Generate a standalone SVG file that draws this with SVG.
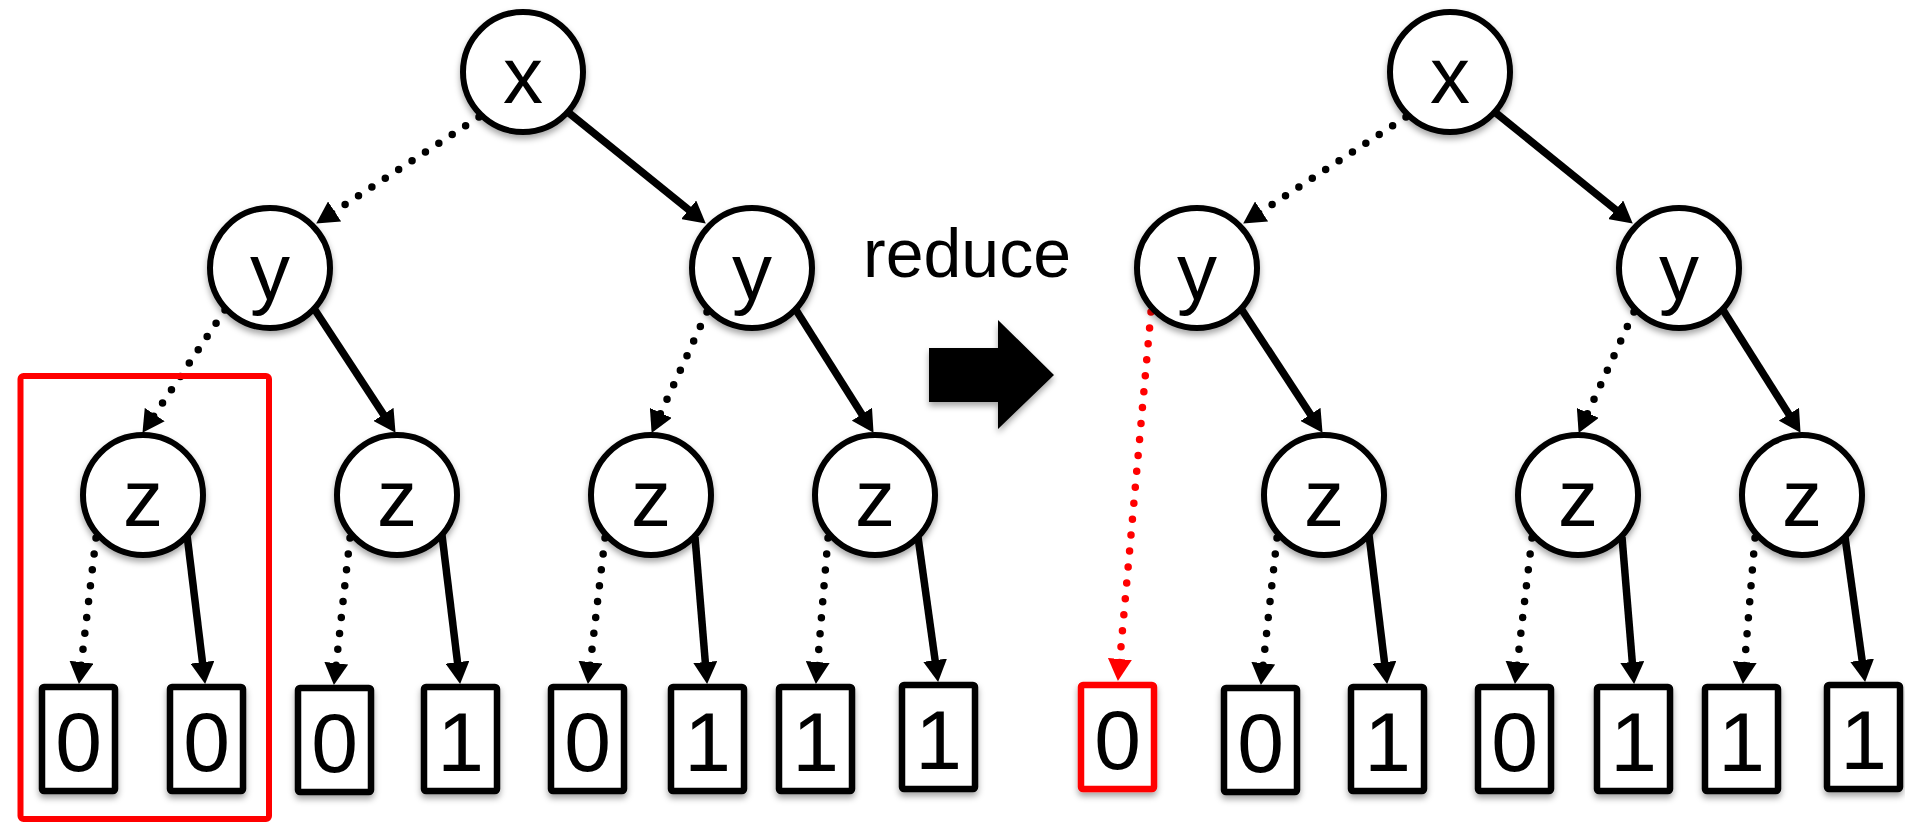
<svg xmlns="http://www.w3.org/2000/svg" width="1905" height="822" viewBox="0 0 1905 822">
  <style>
    .node circle { fill: #fff; stroke: #000; stroke-width: 6; }
    .leaf rect { fill: #fff; stroke: #000; stroke-width: 6.5; }
    .leaf.hl rect { stroke: #ff0000; }
    .lbl { font-family: "Liberation Sans", Arial, sans-serif; font-size: 80px; fill: #000; text-anchor: middle; }
    .num { font-family: "Liberation Sans", Arial, sans-serif; font-size: 84px; fill: #000; text-anchor: middle; }
    .hi { stroke: #000; stroke-width: 7.5; fill: none; marker-end: url(#head); }
    .lo { stroke: #000; stroke-width: 7.5; fill: none; stroke-linecap: round; stroke-dasharray: 0 16; marker-end: url(#head); }
    .lo.red { stroke: #ff0000; marker-end: url(#headRed); }
  </style>
  <defs>
    <filter id="shade" x="-20%" y="-20%" width="140%" height="150%">
      <feDropShadow dx="0" dy="4" stdDeviation="3" flood-color="#000" flood-opacity="0.35"/>
    </filter>
    <marker id="head" markerUnits="userSpaceOnUse" markerWidth="24" markerHeight="24" refX="11" refY="12" orient="auto">
      <path d="M0,0 L22,12 L0,24 Z" fill="#000"/>
    </marker>
    <marker id="headRed" markerUnits="userSpaceOnUse" markerWidth="24" markerHeight="24" refX="11" refY="12" orient="auto">
      <path d="M0,0 L22,12 L0,24 Z" fill="#ff0000"/>
    </marker>
  </defs>

  <rect width="1905" height="822" fill="#fff"/>

  <!-- edges: solid = high branch, dotted = low branch -->
  <g id="edges">
    <!-- left tree -->
    <line class="lo" x1="479" y1="117" x2="325.4" y2="217.5"/>
    <line class="hi" x1="569" y1="113" x2="697.2" y2="216.7"/>
    <line class="lo" x1="225" y1="310" x2="148.6" y2="423.7"/>
    <line class="hi" x1="315" y1="310" x2="389.5" y2="423.6"/>
    <line class="lo" x1="707" y1="312" x2="656.2" y2="422.9"/>
    <line class="hi" x1="796" y1="310" x2="867.7" y2="423.5"/>
    <line class="lo" x1="96" y1="538" x2="80.2" y2="673.1"/>
    <line class="hi" x1="187" y1="535" x2="203.8" y2="673.1"/>
    <line class="lo" x1="350" y1="538" x2="335.1" y2="674.1"/>
    <line class="hi" x1="442" y1="535" x2="458.8" y2="673.1"/>
    <line class="lo" x1="605" y1="538" x2="589.2" y2="673.1"/>
    <line class="hi" x1="695" y1="537" x2="706.2" y2="673.0"/>
    <line class="lo" x1="828" y1="538" x2="816.8" y2="673.0"/>
    <line class="hi" x1="918" y1="537" x2="936.6" y2="671.1"/>
    <!-- right tree -->
    <line class="lo" x1="1406" y1="117" x2="1252.4" y2="217.5"/>
    <line class="hi" x1="1496" y1="113" x2="1624.2" y2="216.7"/>
    <line class="lo red" x1="1151" y1="312" x2="1118.9" y2="670.0"/>
    <line class="hi" x1="1242" y1="310" x2="1316.5" y2="423.6"/>
    <line class="lo" x1="1634" y1="312" x2="1583.2" y2="422.9"/>
    <line class="hi" x1="1723" y1="310" x2="1794.7" y2="423.5"/>
    <line class="lo" x1="1277" y1="538" x2="1262.1" y2="674.1"/>
    <line class="hi" x1="1369" y1="535" x2="1385.8" y2="673.1"/>
    <line class="lo" x1="1532" y1="538" x2="1516.2" y2="673.1"/>
    <line class="hi" x1="1622" y1="537" x2="1633.2" y2="673.0"/>
    <line class="lo" x1="1755" y1="538" x2="1743.8" y2="673.0"/>
    <line class="hi" x1="1845" y1="537" x2="1863.6" y2="671.1"/>
  </g>

  <!-- left tree: decision nodes -->
  <g id="L-x" class="node" filter="url(#shade)"><circle cx="523" cy="72" r="60"/><text class="lbl" x="523" y="103">x</text></g>
  <g id="L-y1" class="node" filter="url(#shade)"><circle cx="270" cy="268" r="60"/><text class="lbl" x="270" y="299">y</text></g>
  <g id="L-y2" class="node" filter="url(#shade)"><circle cx="752" cy="268" r="60"/><text class="lbl" x="752" y="299">y</text></g>
  <g id="L-z1" class="node" filter="url(#shade)"><circle cx="143" cy="495" r="60"/><text class="lbl" x="143" y="526">z</text></g>
  <g id="L-z2" class="node" filter="url(#shade)"><circle cx="397" cy="495" r="60"/><text class="lbl" x="397" y="526">z</text></g>
  <g id="L-z3" class="node" filter="url(#shade)"><circle cx="651" cy="495" r="60"/><text class="lbl" x="651" y="526">z</text></g>
  <g id="L-z4" class="node" filter="url(#shade)"><circle cx="875" cy="495" r="60"/><text class="lbl" x="875" y="526">z</text></g>

  <!-- left tree: terminals -->
  <g id="L-t1" class="leaf" filter="url(#shade)"><rect x="42" y="687" width="73" height="104" rx="2"/><text class="num" x="78.5" y="771">0</text></g>
  <g id="L-t2" class="leaf" filter="url(#shade)"><rect x="170" y="687" width="73" height="104" rx="2"/><text class="num" x="206.5" y="771">0</text></g>
  <g id="L-t3" class="leaf" filter="url(#shade)"><rect x="298" y="688" width="73" height="104" rx="2"/><text class="num" x="334.5" y="772">0</text></g>
  <g id="L-t4" class="leaf" filter="url(#shade)"><rect x="424" y="687" width="73" height="104" rx="2"/><text class="num" x="460.5" y="771">1</text></g>
  <g id="L-t5" class="leaf" filter="url(#shade)"><rect x="551" y="687" width="73" height="104" rx="2"/><text class="num" x="587.5" y="771">0</text></g>
  <g id="L-t6" class="leaf" filter="url(#shade)"><rect x="671" y="687" width="73" height="104" rx="2"/><text class="num" x="707.5" y="771">1</text></g>
  <g id="L-t7" class="leaf" filter="url(#shade)"><rect x="779" y="687" width="73" height="104" rx="2"/><text class="num" x="815.5" y="771">1</text></g>
  <g id="L-t8" class="leaf" filter="url(#shade)"><rect x="902" y="685" width="73" height="104" rx="2"/><text class="num" x="938.5" y="769">1</text></g>

  <!-- redundant sub-tree frame -->
  <g id="redundant-frame">
    <rect x="20.5" y="376" width="248.5" height="443" rx="3" fill="none" stroke="#ff0000" stroke-width="6"/>
  </g>

  <!-- transformation label and arrow -->
  <g id="reduce-label">
    <text x="967" y="277" font-family="'Liberation Sans', Arial, sans-serif" font-size="68" text-anchor="middle" fill="#000">reduce</text>
  </g>
  <g id="reduce-arrow" filter="url(#shade)">
    <polygon points="929,348 998,348 998,320 1054,375 998,429 998,402 929,402" fill="#000"/>
  </g>

  <!-- right tree: decision nodes -->
  <g id="R-x" class="node" filter="url(#shade)"><circle cx="1450" cy="72" r="60"/><text class="lbl" x="1450" y="103">x</text></g>
  <g id="R-y1" class="node" filter="url(#shade)"><circle cx="1197" cy="268" r="60"/><text class="lbl" x="1197" y="299">y</text></g>
  <g id="R-y2" class="node" filter="url(#shade)"><circle cx="1679" cy="268" r="60"/><text class="lbl" x="1679" y="299">y</text></g>
  <g id="R-z2" class="node" filter="url(#shade)"><circle cx="1324" cy="495" r="60"/><text class="lbl" x="1324" y="526">z</text></g>
  <g id="R-z3" class="node" filter="url(#shade)"><circle cx="1578" cy="495" r="60"/><text class="lbl" x="1578" y="526">z</text></g>
  <g id="R-z4" class="node" filter="url(#shade)"><circle cx="1802" cy="495" r="60"/><text class="lbl" x="1802" y="526">z</text></g>

  <!-- right tree: terminals -->
  <g id="R-t0" class="leaf hl" filter="url(#shade)"><rect x="1081" y="685" width="73" height="104" rx="2"/><text class="num" x="1117.5" y="769">0</text></g>
  <g id="R-t3" class="leaf" filter="url(#shade)"><rect x="1224" y="688" width="73" height="104" rx="2"/><text class="num" x="1260.5" y="772">0</text></g>
  <g id="R-t4" class="leaf" filter="url(#shade)"><rect x="1351" y="687" width="73" height="104" rx="2"/><text class="num" x="1387.5" y="771">1</text></g>
  <g id="R-t5" class="leaf" filter="url(#shade)"><rect x="1478" y="687" width="73" height="104" rx="2"/><text class="num" x="1514.5" y="771">0</text></g>
  <g id="R-t6" class="leaf" filter="url(#shade)"><rect x="1597" y="687" width="73" height="104" rx="2"/><text class="num" x="1633.5" y="771">1</text></g>
  <g id="R-t7" class="leaf" filter="url(#shade)"><rect x="1705" y="687" width="73" height="104" rx="2"/><text class="num" x="1741.5" y="771">1</text></g>
  <g id="R-t8" class="leaf" filter="url(#shade)"><rect x="1827" y="685" width="73" height="104" rx="2"/><text class="num" x="1863.5" y="769">1</text></g>
</svg>
